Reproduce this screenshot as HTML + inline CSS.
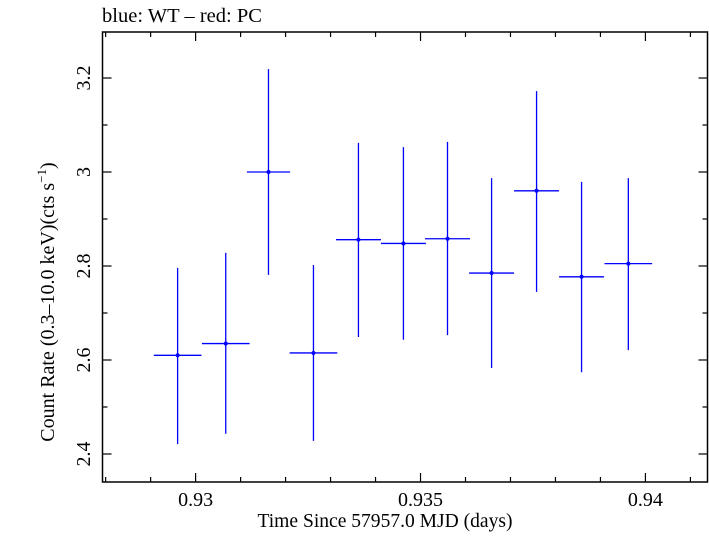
<!DOCTYPE html>
<html><head><meta charset="utf-8"><style>
html,body{margin:0;padding:0;background:#fff;}
svg text{font-family:"Liberation Serif",serif;fill:#000;}
</style></head><body>
<svg id="chart" width="709" height="532" xmlns="http://www.w3.org/2000/svg">
<text x="102" y="22" font-size="20.5" textLength="160" lengthAdjust="spacingAndGlyphs">blue: WT – red: PC</text>
<rect x="102.5" y="32" width="605" height="450" fill="none" stroke="#000" stroke-width="1.5"/>
<g id="axes"></g>
<g id="marks"></g>
<text x="385" y="527" font-size="20" text-anchor="middle" textLength="255" lengthAdjust="spacingAndGlyphs">Time Since 57957.0 MJD (days)</text>
<text transform="translate(54,302) rotate(-90)" font-size="20" text-anchor="middle">Count Rate (0.3–10.0 keV)(cts s<tspan font-size="13" dy="-8">−1</tspan><tspan dy="8">)</tspan></text>
</svg>
<script>
const times = [0.9296,0.93067,0.93162,0.93262,0.93362,0.93462,0.9356,0.93658,0.93758,0.93858,0.93962];
const halfWidths = [0.00053,0.00053,0.00048,0.00053,0.0005,0.0005,0.0005,0.0005,0.0005,0.0005,0.00053];
const rates = [2.61,2.635,3.0,2.615,2.856,2.848,2.858,2.785,2.96,2.777,2.805];
const rateHigh = [2.796,2.828,3.219,2.802,3.062,3.053,3.064,2.987,3.172,2.979,2.987];
const rateLow = [2.421,2.443,2.781,2.428,2.649,2.643,2.653,2.583,2.745,2.574,2.621];
const xTicks = [0.93,0.935,0.94];
const xTickLabels = ["0.93","0.935","0.94"];
const yTicks = [2.4,2.6,2.8,3.0,3.2];
const yTickLabels = ["2.4","2.6","2.8","3","3.2"];

const L=102.5,R=707.5,T=32,B=482;
const xMin=0.92793,xMax=0.94138,yMin=2.3404,yMax=3.2979;
const xs=v=>L+(v-xMin)/(xMax-xMin)*(R-L);
const ys=v=>B-(v-yMin)/(yMax-yMin)*(B-T);
const NS="http://www.w3.org/2000/svg";
function mk(tag,attrs,parent){const e=document.createElementNS(NS,tag);for(const k in attrs)e.setAttribute(k,attrs[k]);parent.appendChild(e);return e;}
const axes=document.getElementById('axes');
const marks=document.getElementById('marks');
for(let i=928;i<=941;i++){
  const v=i/1000; const x=xs(v); const major=(i%5===0); const len=major?9:5;
  let t=mk('line',{x1:x,x2:x,y1:B,y2:B-len,stroke:'#000','stroke-width':1.2},axes);
  
  
  t=mk('line',{x1:x,x2:x,y1:T,y2:T+len,stroke:'#000','stroke-width':1.2},axes);
  
  
}
xTicks.forEach((v,i)=>{
  const t=mk('text',{x:xs(v),y:506,'font-size':20,'text-anchor':'middle'},axes);
  t.textContent=xTickLabels[i];
  
  
});
for(let i=24;i<=32;i++){
  const v=i/10; const y=ys(v); const major=(i%2===0); const len=major?9:5;
  let t=mk('line',{x1:L,x2:L+len,y1:y,y2:y,stroke:'#000','stroke-width':1.2},axes);
  
  
  t=mk('line',{x1:R,x2:R-len,y1:y,y2:y,stroke:'#000','stroke-width':1.2},axes);
  
  
}
yTicks.forEach((v,i)=>{
  const y=ys(v);
  const t=mk('text',{transform:`translate(90,${y}) rotate(-90)`,'font-size':20,'text-anchor':'middle'},axes);
  t.textContent=yTickLabels[i];
  
  
});
times.forEach((t,i)=>{
  const g=mk('g',{},marks);
  
  
  const x=xs(t),y=ys(rates[i]);
  mk('line',{x1:xs(t-halfWidths[i]),x2:xs(t+halfWidths[i]),y1:y,y2:y,stroke:'#0000ff','stroke-width':1.3},g);
  mk('line',{x1:x,x2:x,y1:ys(rateHigh[i]),y2:ys(rateLow[i]),stroke:'#0000ff','stroke-width':1.3},g);
  mk('circle',{cx:x,cy:y,r:2,fill:'#0000ff'},g);
});
</script>
</body></html>
